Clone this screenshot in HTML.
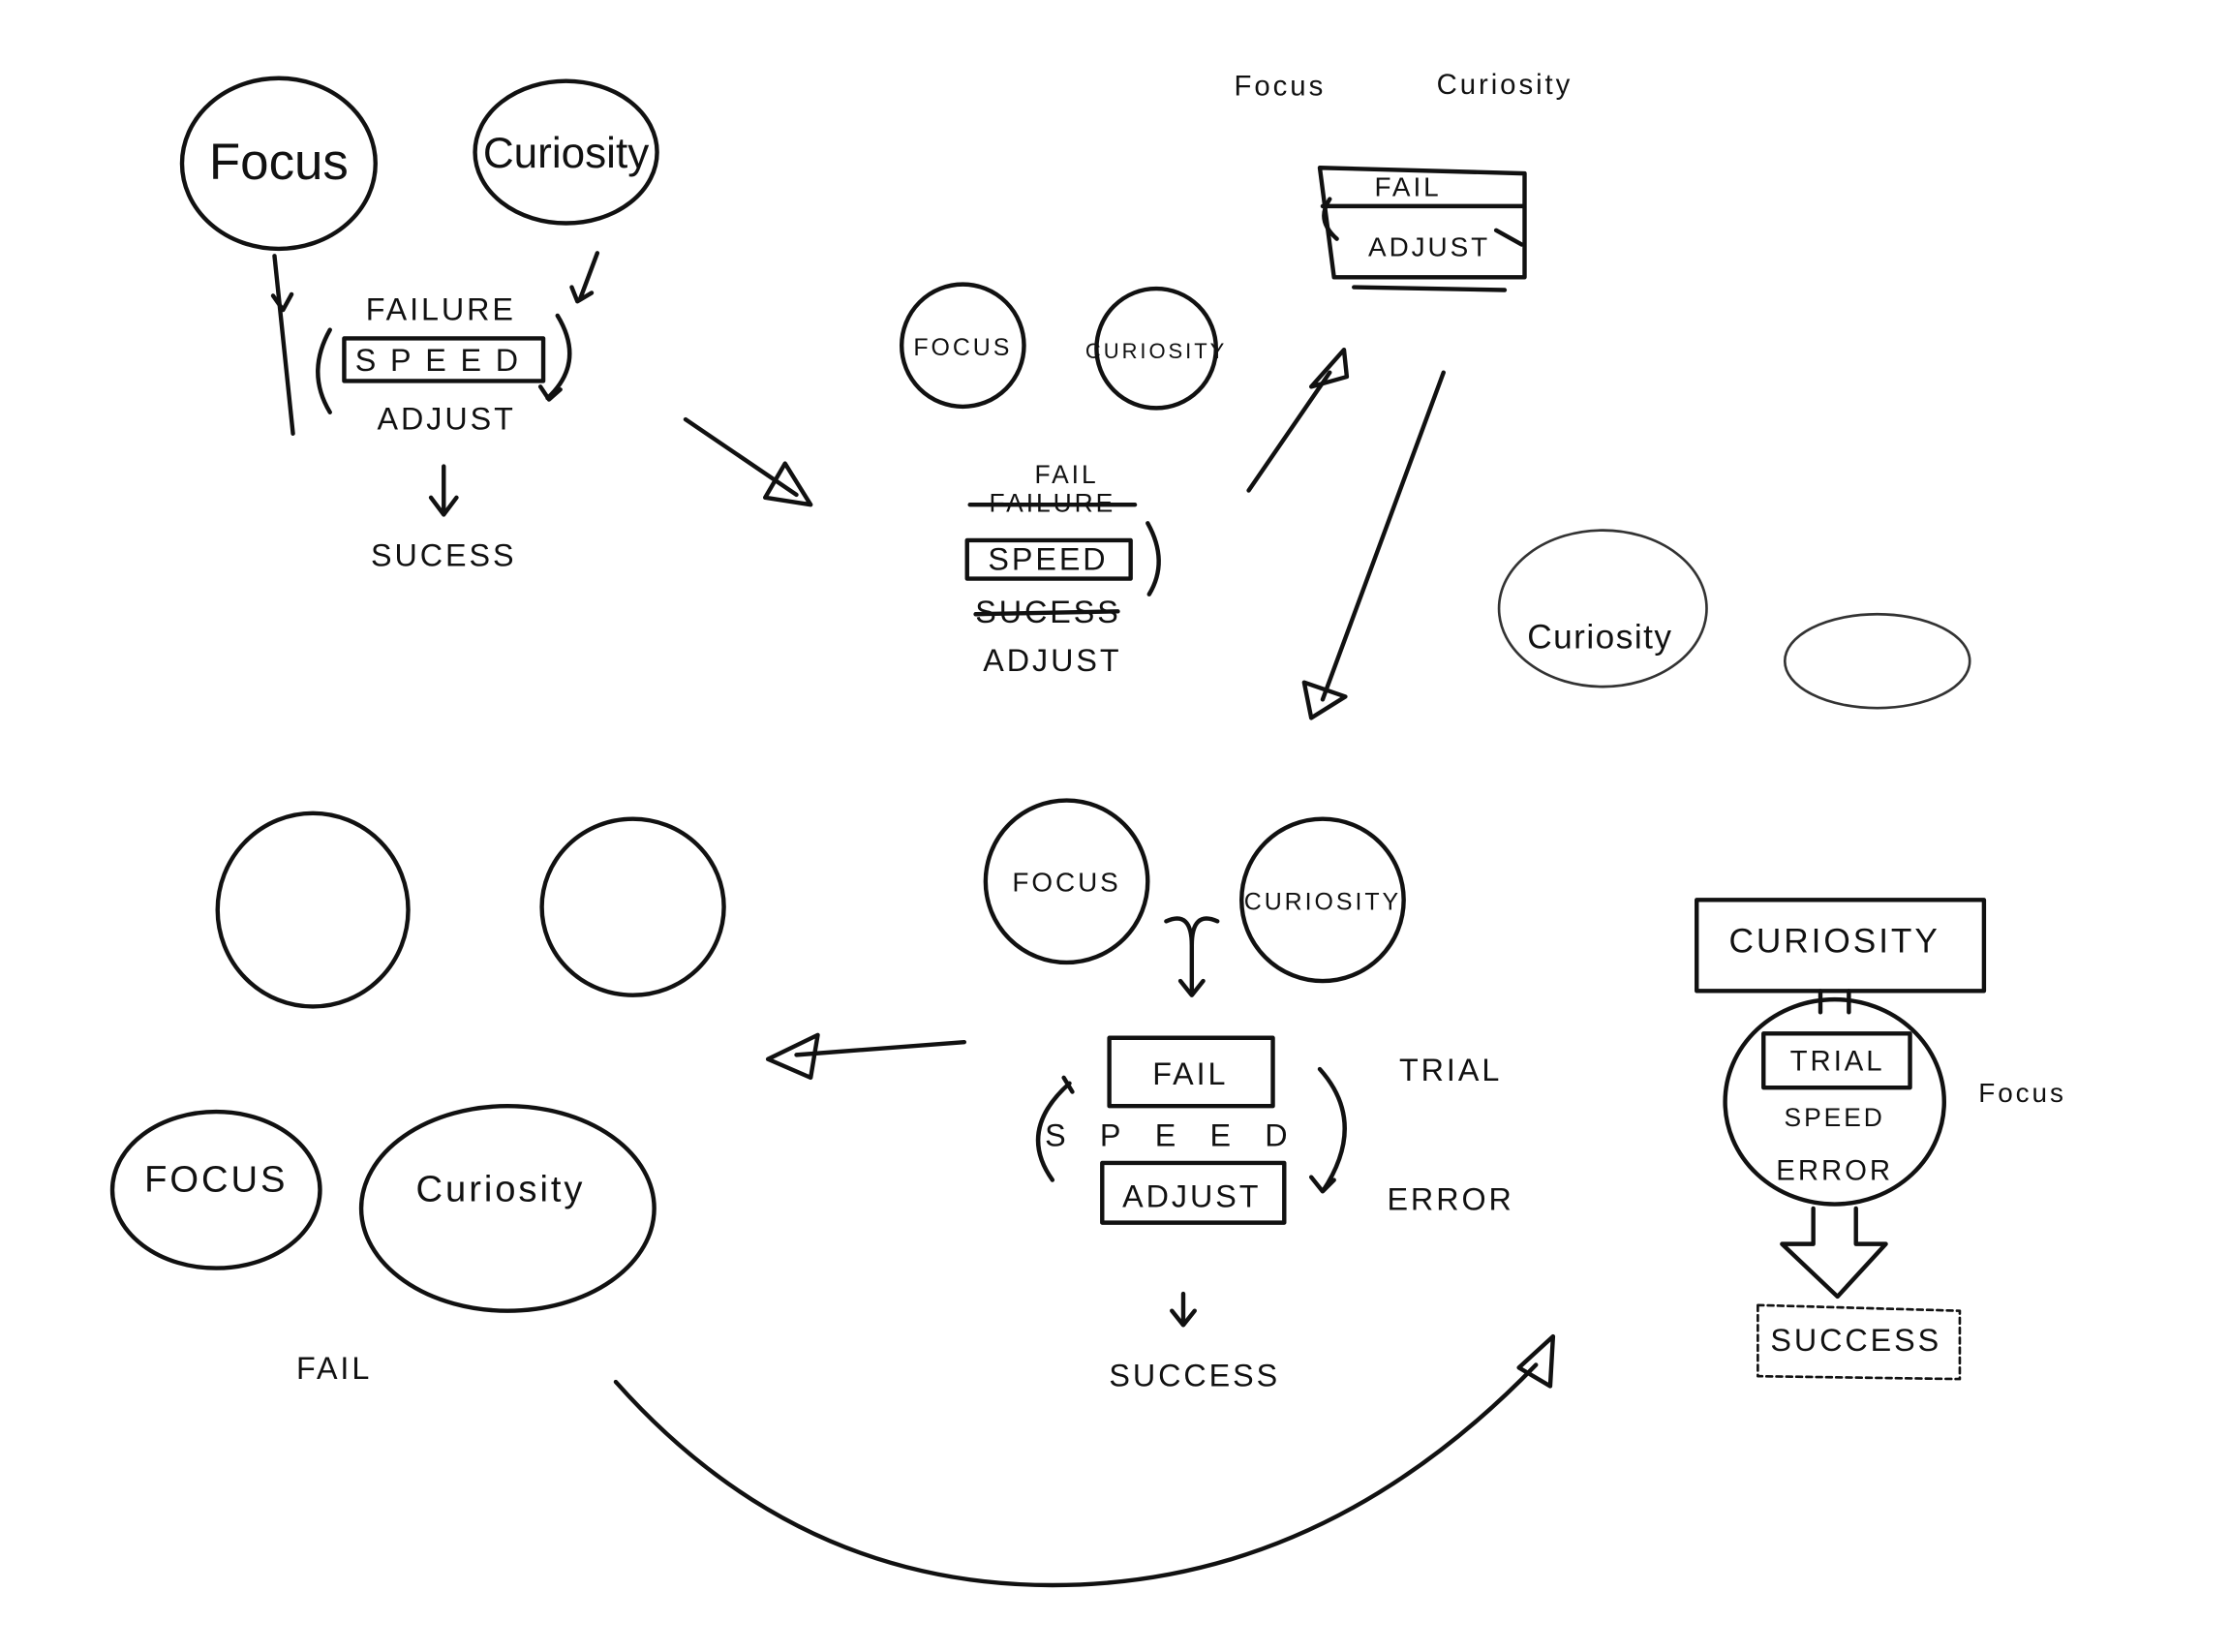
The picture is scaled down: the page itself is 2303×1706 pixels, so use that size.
<!DOCTYPE html>
<html><head><meta charset="utf-8"><style>
html,body{margin:0;padding:0;background:#fff;}
svg{display:block;}
text{font-family:"Liberation Sans",sans-serif;fill:#111;}
</style></head><body>
<svg width="2303" height="1706" viewBox="0 0 1568 1162" preserveAspectRatio="none" xmlns="http://www.w3.org/2000/svg">
<g fill="none" stroke="#111" stroke-width="3" stroke-linecap="round" stroke-linejoin="round">
<ellipse cx="196" cy="115" rx="68" ry="60"/>
<ellipse cx="398" cy="107" rx="64" ry="50"/>
<path d="M193 180 L206 305"/>
<path d="M192 208 L199 218 L205 207"/>
<path d="M420 178 L408 210 M402 202 L406 212 L416 206"/>
<rect x="242" y="238" width="140" height="30"/>
<path d="M232 232 Q215 262 232 290"/>
<path d="M392 222 Q412 255 385 280 M380 272 L386 281 L394 274"/>
<path d="M312 328 L312 362 M303 350 L312 362 L321 350"/>
<path d="M482 295 L560 348"/>
<path d="M538 350 L552 326 L570 355 Z"/>
<circle cx="677" cy="243" r="43"/>
<circle cx="813" cy="245" r="42"/>
<rect x="680" y="380" width="115" height="27"/>
<path d="M682 355 L798 355 M686 432 L786 430"/>
<path d="M807 368 Q822 395 808 418"/>
<path d="M878 345 L935 262"/>
<path d="M922 272 L945 246 L947 265 Z"/>
<path d="M928 118 L1072 122 L1072 195 L938 195 L928 118 M930 145 L1072 145 M952 202 L1058 204"/>
<path d="M935 140 Q925 155 940 168 M1052 162 L1070 172"/>
<path d="M1015 262 L930 492"/>
<path d="M917 480 L922 505 L946 490 Z"/>
<g stroke-width="1.8" stroke="#333">
<ellipse cx="1127" cy="428" rx="73" ry="55"/>
<ellipse cx="1320" cy="465" rx="65" ry="33"/>
</g>
<ellipse cx="220" cy="640" rx="67" ry="68"/>
<ellipse cx="445" cy="638" rx="64" ry="62"/>
<path d="M678 733 L560 742"/>
<path d="M540 745 L575 728 L570 758 Z"/>
<ellipse cx="152" cy="837" rx="73" ry="55"/>
<ellipse cx="357" cy="850" rx="103" ry="72"/>
<path d="M433 972 Q560 1115 740 1115 Q930 1115 1080 960"/>
<path d="M1068 962 L1092 940 L1090 975 Z"/>
<circle cx="750" cy="620" r="57"/>
<circle cx="930" cy="633" r="57"/>
<path d="M820 648 Q838 640 838 665 L838 700 M856 648 Q838 640 838 665 M830 690 L838 700 L846 690"/>
<rect x="780" y="730" width="115" height="48"/>
<rect x="775" y="818" width="128" height="42"/>
<path d="M752 762 Q715 795 740 830 M748 758 L754 768"/>
<path d="M928 752 Q962 790 930 838 M922 828 L930 838 L938 830"/>
<path d="M832 910 L832 932 M824 922 L832 932 L840 922"/>
<rect x="1193" y="633" width="202" height="64"/>
<path d="M1280 697 L1280 712 M1300 697 L1300 712"/>
<ellipse cx="1290" cy="775" rx="77" ry="72"/>
<rect x="1240" y="727" width="103" height="38"/>
<path d="M1275 850 L1275 875 L1253 875 L1292 912 L1326 875 L1305 875 L1305 850"/>
<path d="M1236 918 L1378 922 L1378 970 L1236 968 Z" stroke-width="1.8" stroke-dasharray="4 3"/>
</g>
<g font-size="34">
<text x="196" y="126" text-anchor="middle" font-size="36">Focus</text>
<text x="398" y="118" text-anchor="middle" font-size="30">Curiosity</text>
</g>
<g font-size="22" text-anchor="middle" letter-spacing="2">
<text x="310" y="225">FAILURE</text>
<text x="312" y="261" letter-spacing="10">SPEED</text>
<text x="314" y="302">ADJUST</text>
<text x="312" y="398">SUCESS</text>
<text x="677" y="250" font-size="17">FOCUS</text>
<text x="813" y="252" font-size="15">CURIOSITY</text>
<text x="750" y="340" font-size="18">FAIL</text>
<text x="740" y="360" font-size="18">FAILURE</text>
<text x="737" y="401">SPEED</text>
<text x="737" y="438">SUCESS</text>
<text x="740" y="472">ADJUST</text>
<text x="900" y="67" font-size="20">Focus</text>
<text x="1058" y="66" font-size="20">Curiosity</text>
<text x="990" y="138" font-size="19">FAIL</text>
<text x="1005" y="180" font-size="19">ADJUST</text>
<text x="1125" y="456" font-size="24" letter-spacing="1">Curiosity</text>
<text x="750" y="627" font-size="19">FOCUS</text>
<text x="930" y="640" font-size="17">CURIOSITY</text>
<text x="837" y="763">FAIL</text>
<text x="832" y="806" letter-spacing="24">SPEED</text>
<text x="838" y="849">ADJUST</text>
<text x="1020" y="760">TRIAL</text>
<text x="1020" y="851">ERROR</text>
<text x="840" y="975">SUCCESS</text>
<text x="152" y="838" font-size="26">FOCUS</text>
<text x="352" y="845" font-size="26">Curiosity</text>
<text x="235" y="970">FAIL</text>
<text x="1290" y="670" font-size="24">CURIOSITY</text>
<text x="1292" y="753" font-size="20">TRIAL</text>
<text x="1290" y="792" font-size="18">SPEED</text>
<text x="1290" y="830" font-size="20">ERROR</text>
<text x="1422" y="775" font-size="19">Focus</text>
<text x="1305" y="950">SUCCESS</text>
</g>
</svg>
</body></html>
